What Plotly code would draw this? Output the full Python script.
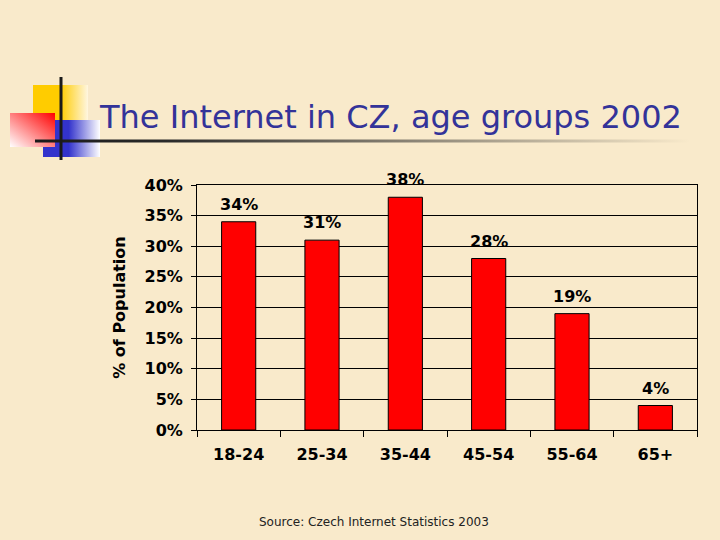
import base64
import plotly.graph_objects as go

age_groups = ['18-24', '25-34', '35-44', '45-54', '55-64', '65+']
share = [0.34, 0.31, 0.38, 0.28, 0.19, 0.04]
y_ticks = [0, 0.05, 0.10, 0.15, 0.20, 0.25, 0.30, 0.35, 0.40]

bg = '#F9EACB'
W, H = 720, 540
L, R, T, B = 197, 23, 185, 110
pw, ph = W - L - R, H - T - B

# slide decoration (logo squares + title underline), drawn as one svg
svg = f'''<svg xmlns="http://www.w3.org/2000/svg" width="{W}" height="{H}" viewBox="0 0 {W} {H}">
<defs>
<linearGradient id="gy" x1="0" y1="0" x2="1" y2="0">
<stop offset="0" stop-color="#FFCC00"/><stop offset="0.5" stop-color="#FFCC00"/><stop offset="1" stop-color="#FFF6E0"/></linearGradient>
<linearGradient id="gb" x1="0" y1="0" x2="1" y2="0">
<stop offset="0" stop-color="#3333CC"/><stop offset="0.45" stop-color="#3333CC"/><stop offset="1" stop-color="#FFFFFF"/></linearGradient>
<linearGradient id="gr" x1="1" y1="0" x2="0" y2="1">
<stop offset="0" stop-color="#FF0000"/><stop offset="1" stop-color="#FFFFFF"/></linearGradient>
<linearGradient id="gl" x1="0" y1="0" x2="1" y2="0">
<stop offset="0" stop-color="#1A1A1A"/><stop offset="0.2" stop-color="#2A2A2A"/><stop offset="1" stop-color="{bg}"/></linearGradient>
</defs>
<rect x="33" y="85" width="55" height="38" fill="url(#gy)"/>
<rect x="43" y="120" width="57" height="37" fill="url(#gb)"/>
<rect x="10" y="113" width="45" height="34" fill="url(#gr)"/>
<rect x="35" y="139.5" width="655" height="3" fill="url(#gl)"/>
<rect x="59.5" y="77" width="3" height="83" fill="#1A1A1A"/>
</svg>'''
src = 'data:image/svg+xml;base64,' + base64.b64encode(svg.encode()).decode()

bold16 = dict(family='DejaVu Sans', size=16, color='black', weight='bold')

fig = go.Figure(go.Bar(
    x=age_groups, y=share,
    marker=dict(color='#FF0000', line=dict(color='#000000', width=1)),
    hoverinfo='skip',
))

# value labels sit a bit higher than plotly's 'outside' text
labels = [dict(x=a, y=v, text=f'{v:.0%}', xref='x', yref='y',
               yanchor='bottom', yshift=6, showarrow=False, font=bold16)
          for a, v in zip(age_groups, share)]

fig.update_layout(
    width=W, height=H,
    margin=dict(l=L, r=R, t=T, b=B),
    paper_bgcolor=bg, plot_bgcolor=bg,
    bargap=0.59,
    showlegend=False,
    title=dict(
        text='The Internet in CZ, age groups 2002',
        x=100 / W, xanchor='left', xref='container',
        y=1 - 117 / H, yanchor='middle', yref='container',
        font=dict(family='DejaVu Sans', size=32, color='#333399'),
    ),
    xaxis=dict(
        type='category', showgrid=False,
        showline=True, linecolor='black', linewidth=1, mirror=True,
        ticks='outside', tickson='boundaries', ticklen=6, tickcolor='black',
        ticklabelstandoff=10,
        tickfont=bold16,
    ),
    yaxis=dict(
        range=[0, 0.4], tickvals=y_ticks, tickformat='.0%',
        showgrid=True, gridcolor='black', gridwidth=1,
        showline=True, linecolor='black', linewidth=1, mirror=True,
        ticks='outside', ticklen=5, tickcolor='black', zeroline=False,
        ticklabelstandoff=5,
        tickfont=bold16,
        title=dict(text='% of Population', standoff=14, font=bold16),
    ),
    images=[dict(
        source=src, xref='paper', yref='paper',
        x=-L / pw, y=1 + T / ph, sizex=W / pw, sizey=H / ph,
        xanchor='left', yanchor='top', sizing='stretch', layer='below',
    )],
    annotations=labels + [dict(
        text='Source: Czech Internet Statistics 2003',
        xref='paper', yref='paper', x=(374 - L) / pw, y=(T + ph - 522) / ph,
        xanchor='center', yanchor='middle', showarrow=False,
        font=dict(family='DejaVu Sans', size=12, color='#222222'),
    )],
)

fig.write_html('out.html', config={'displayModeBar': False},
               post_script="document.body.style.margin='0';")
